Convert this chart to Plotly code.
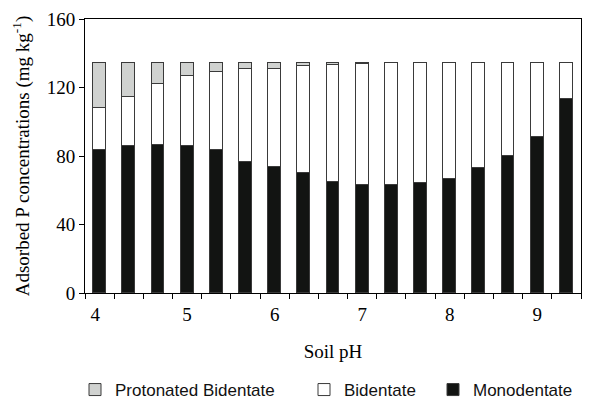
import plotly.graph_objects as go

ph_labels = ["4", "5", "6", "7", "8", "9"]
n_bars = 17
monodentate = [83.5, 85.6, 86.6, 85.6, 83.5, 76.7, 73.4, 70.3, 65.0, 63.0, 63.0, 64.4, 66.8, 73.2, 80.2, 90.9, 113.1]
bidentate = [24.3, 28.9, 35.4, 40.9, 45.5, 54.3, 57.6, 62.2, 68.0, 70.5, 71.5, 70.1, 67.7, 61.3, 54.3, 43.6, 21.4]
protonated = [26.7, 20.0, 12.5, 8.0, 5.5, 3.5, 3.5, 2.0, 1.5, 1.0, 0, 0, 0, 0, 0, 0, 0]

x = list(range(n_bars))
line = dict(color="#3a3a3a", width=1)
serif = "Liberation Serif, Times New Roman, serif"
sans = "Liberation Sans, Arial, sans-serif"

fig = go.Figure()
fig.add_trace(go.Bar(x=x, y=monodentate, name="Monodentate", width=0.44,
                     marker=dict(color="#121412", line=line), legend="legend3"))
fig.add_trace(go.Bar(x=x, y=bidentate, name="Bidentate", width=0.44,
                     marker=dict(color="#ffffff", line=line), legend="legend2"))
fig.add_trace(go.Bar(x=x, y=protonated, name="Protonated Bidentate", width=0.44,
                     marker=dict(color="#d0d2d0", line=line), legend="legend"))

W, H = 603, 399
ml, mr, mt, mb = 85, 22, 19, 106
pw = W - ml - mr
ph = H - mt - mb

def lx(px):
    return (px - ml) / pw

ly = (mt + ph - 390) / ph

leg_common = dict(orientation="h", yanchor="middle", xanchor="left", y=ly,
                  font=dict(family=sans, size=17, color="#111"),
                  bgcolor="rgba(0,0,0,0)", borderwidth=0)

fig.update_layout(
    width=W, height=H,
    margin=dict(l=ml, r=mr, t=mt, b=mb, autoexpand=False),
    barmode="stack",
    plot_bgcolor="white", paper_bgcolor="white",
    bargap=0,
    showlegend=True,
    legend=dict(x=lx(75), **leg_common),
    legend2=dict(x=lx(304), **leg_common),
    legend3=dict(x=lx(433), **leg_common),
    xaxis=dict(
        range=[-0.5, n_bars - 0.5],
        tickmode="array",
        tickvals=[-0.15, 3, 6, 9, 12, 15],
        ticktext=ph_labels,
        ticks="outside", ticklen=4, tickcolor="rgba(0,0,0,0)",
        automargin=False,
        showline=True, linecolor="black", linewidth=1, mirror=True,
        showgrid=False, zeroline=False,
        tickfont=dict(family=serif, size=19, color="black"),
        minor=dict(ticks="outside", ticklen=5, tickcolor="black", tickwidth=1,
                   tick0=-0.5, dtick=1, showgrid=False),
        title=dict(text="Soil pH", font=dict(family=serif, size=19, color="black"), standoff=20),
    ),
    yaxis=dict(
        range=[0, 160],
        tickmode="linear", tick0=0, dtick=40,
        ticks="outside", ticklen=5, tickcolor="black",
        automargin=False,
        showline=True, linecolor="black", linewidth=1, mirror=True,
        showgrid=False, zeroline=False,
        tickfont=dict(family=serif, size=19, color="black"),
        title=dict(text="Adsorbed P concentrations (mg kg<sup>-1</sup>)",
                   font=dict(family=serif, size=19, color="black"), standoff=12),
    ),
)

fig.write_html("out.html")
